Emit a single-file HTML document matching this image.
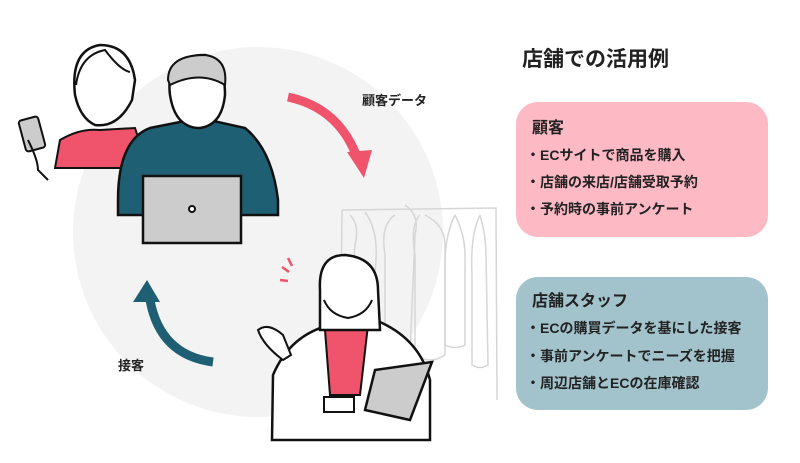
<!DOCTYPE html>
<html><head><meta charset="utf-8"><style>
html,body{margin:0;padding:0;background:#fff}
body{width:800px;height:463px;position:relative;overflow:hidden;font-family:"Liberation Sans","Noto Sans CJK JP",sans-serif;color:#222}
.t{position:absolute;white-space:nowrap}
.box{position:absolute;left:516px;width:252px;border-radius:22px}
.h{font-size:16px;font-weight:bold;position:absolute;left:16px}
.b{font-size:14px;font-weight:bold;position:absolute;left:10px}
</style></head><body>
<svg width="800" height="463" style="position:absolute;left:0;top:0">
<circle cx="258" cy="232" r="185" fill="#f3f3f3"/>
<g fill="none" stroke="#d6d6d6" stroke-width="1.5">
<path d="M342 210 L340 400 M342 210 L496 208 L497 400"/>
<path d="M350 215 q10 10 5 30 l-5 60 M365 212 q15 20 10 60 M395 215 q-15 10 -10 40 l0 90 q10 10 25 10 l5 -120 q5 -20 -10 -30"/>
<path d="M420 215 q-10 10 -5 40 l0 100 q15 10 30 0 l0 -110 q0 -20 -20 -30"/>
<path d="M455 215 q-10 20 -10 50 l0 80 q10 5 20 0 l0 -90 q0 -20 -10 -40"/>
<path d="M480 215 q-10 20 -8 60 l0 90 q8 5 16 0 l-2 -110 q0 -20 -6 -40"/>
</g>
<path d="M288 97 Q340 108 358 160" fill="none" stroke="#f0546c" stroke-width="9"/>
<polygon points="347,152 372,150 364,178" fill="#f0546c"/>
<path d="M213 362 Q160 355 150 300" fill="none" stroke="#1f5f74" stroke-width="9"/>
<polygon points="133,302 160,302 147,280" fill="#1f5f74"/>
<path d="M55 168 L60 140 Q80 128 100 130 L135 128 L148 168 Z" fill="#f0546c" stroke="#111" stroke-width="2"/>
<path d="M75 95 Q70 50 100 45 Q130 45 135 80 L132 100 Q118 128 95 125 Q80 118 75 95Z" fill="#fff" stroke="#111" stroke-width="2.5"/>
<path d="M76 85 Q80 55 105 50 Q120 70 130 72" fill="none" stroke="#111" stroke-width="2"/>
<rect x="22" y="118" width="20" height="32" rx="3" fill="#ccc" stroke="#111" stroke-width="2" transform="rotate(-15 32 134)"/>
<path d="M28 140 q10 20 10 30 l10 10" fill="none" stroke="#111" stroke-width="2"/>
<path d="M118 200 Q118 140 150 128 L200 118 L245 128 Q272 150 278 200 L278 215 L118 215Z" fill="#1f5f74" stroke="#111" stroke-width="2.5"/>
<path d="M170 95 Q165 55 205 55 Q225 60 225 95 Q222 125 200 128 Q175 128 170 95Z" fill="#fff" stroke="#111" stroke-width="2.5"/>
<path d="M168 80 Q168 55 205 55 Q228 58 225 85 Q200 70 170 85Z" fill="#ccc" stroke="#111" stroke-width="2"/>
<rect x="143" y="176" width="98" height="67" fill="#ccc" stroke="#111" stroke-width="2.5"/>
<circle cx="192" cy="209" r="3" fill="#fff" stroke="#111" stroke-width="2"/>
<path d="M272 440 L273 375 Q290 335 330 325 L380 322 Q420 340 430 380 L430 440Z" fill="#fff" stroke="#111" stroke-width="2.5"/>
<path d="M325 330 L330 395 L360 395 L368 325Z" fill="#f0546c" stroke="#111" stroke-width="2"/>
<path d="M320 290 Q318 255 345 255 Q378 258 378 290 L380 330 L320 330Z" fill="#fff" stroke="#111" stroke-width="2.5"/>
<path d="M324 300 Q330 315 348 318 Q366 315 372 300" fill="none" stroke="#111" stroke-width="2"/>
<path d="M375 370 L432 362 L410 420 L365 410Z" fill="#ccc" stroke="#111" stroke-width="2.5"/>
<rect x="324" y="397" width="30" height="15" fill="#fff" stroke="#111" stroke-width="2"/>
<path d="M258 330 q10 -8 25 5 l8 20 l-8 5 q-20 -15 -25 -30Z" fill="#fff" stroke="#111" stroke-width="2"/>
<g stroke="#f0546c" stroke-width="2.5"><line x1="282" y1="267" x2="289" y2="272"/><line x1="288" y1="258" x2="292" y2="266"/><line x1="280" y1="280" x2="288" y2="281"/></g>
</svg>
<div class="t" style="left:362px;top:90px;font-size:13px;font-weight:bold">顧客データ</div>
<div class="t" style="left:118px;top:355px;font-size:13px;font-weight:bold">接客</div>
<div class="t" style="left:522px;top:43px;font-size:21px;font-weight:bold">店舗での活用例</div>
<div class="box" style="top:102px;height:135px;background:#fdbac4">
<div class="h" style="top:12px">顧客</div>
<div class="b" style="top:43px">・ECサイトで商品を購入</div>
<div class="b" style="top:70px">・店舗の来店/店舗受取予約</div>
<div class="b" style="top:97px">・予約時の事前アンケート</div>
</div>
<div class="box" style="top:277px;height:133px;background:#a2c3cc">
<div class="h" style="top:10px">店舗スタッフ</div>
<div class="b" style="top:41px">・ECの購買データを基にした接客</div>
<div class="b" style="top:69px">・事前アンケートでニーズを把握</div>
<div class="b" style="top:96px">・周辺店舗とECの在庫確認</div>
</div>
</body></html>
